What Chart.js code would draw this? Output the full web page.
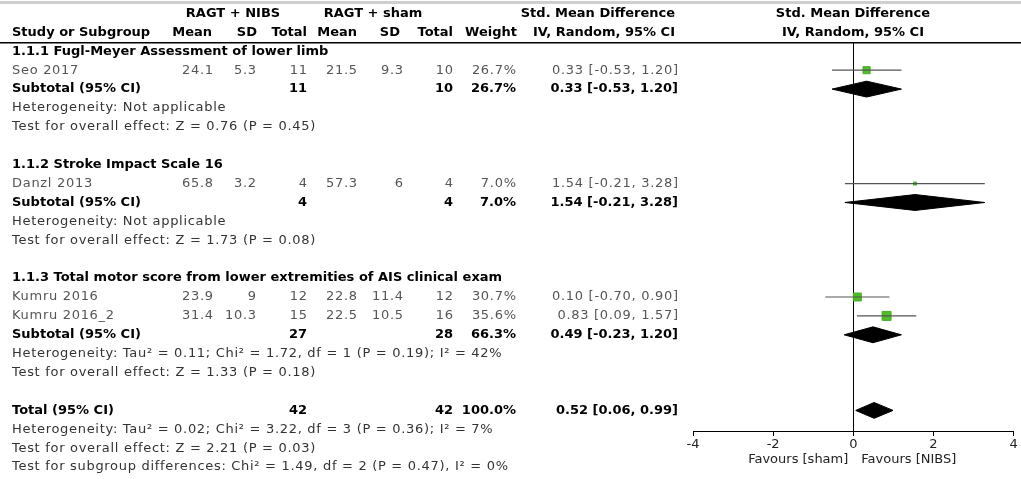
<!DOCTYPE html>
<html>
<head>
<meta charset="utf-8">
<script src="https://cdn.jsdelivr.net/npm/chart.js@4.4.1/dist/chart.umd.min.js"></script>
<style>
  body { margin: 0; background: #fff; }
  #wrap { width: 1021px; height: 479px; }
</style>
</head>
<body>
<div id="wrap"><canvas id="forest" width="1021" height="479"></canvas></div>
<script>
// study level data
var studies = ['Seo 2017', 'Danzl 2013', 'Kumru 2016', 'Kumru 2016_2'];
var studyRow = [3, 9, 15, 16];
var nibsMean = [24.1, 65.8, 23.9, 31.4];
var nibsSD = [5.3, 3.2, 9, 10.3];
var nibsN = [11, 4, 12, 15];
var shamMean = [21.5, 57.3, 22.8, 22.5];
var shamSD = [9.3, 6, 11.4, 10.5];
var shamN = [10, 4, 12, 16];
var weights = [26.7, 7.0, 30.7, 35.6];
var smd = [0.33, 1.54, 0.10, 0.83];
var smdLo = [-0.53, -0.21, -0.70, 0.09];
var smdHi = [1.20, 3.28, 0.90, 1.57];

// subgroups
var groupTitles = ['1.1.1 Fugl-Meyer Assessment of lower limb', '1.1.2 Stroke Impact Scale 16', '1.1.3 Total motor score from lower extremities of AIS clinical exam'];
var groupRow = [2, 8, 14];
var subRow = [4, 10, 17];
var subN1 = [11, 4, 27];
var subN2 = [10, 4, 28];
var subWeight = [26.7, 7.0, 66.3];
var subEst = [0.33, 1.54, 0.49];
var subLo = [-0.53, -0.21, -0.23];
var subHi = [1.20, 3.28, 1.20];
var subHet = ['Heterogeneity: Not applicable', 'Heterogeneity: Not applicable', 'Heterogeneity: Tau\u00b2 = 0.11; Chi\u00b2 = 1.72, df = 1 (P = 0.19); I\u00b2 = 42%'];
var subTest = ['Test for overall effect: Z = 0.76 (P = 0.45)', 'Test for overall effect: Z = 1.73 (P = 0.08)', 'Test for overall effect: Z = 1.33 (P = 0.18)'];

// overall
var totalRow = 21;
var totalN1 = 42, totalN2 = 42, totalWeight = 100.0;
var totalEst = 0.52, totalLo = 0.06, totalHi = 0.99;
var totalNotes = ['Heterogeneity: Tau\u00b2 = 0.02; Chi\u00b2 = 3.22, df = 3 (P = 0.36); I\u00b2 = 7%', 'Test for overall effect: Z = 2.21 (P = 0.03)', 'Test for subgroup differences: Chi\u00b2 = 1.49, df = 2 (P = 0.47), I\u00b2 = 0%'];

var xTicks = [-4, -2, 0, 2, 4];

var FONT = '"DejaVu Sans", sans-serif';
var DIAMOND_H = 0.42;

function ci(e, l, h) {
  return e.toFixed(2) + ' [' + l.toFixed(2) + ', ' + h.toFixed(2) + ']';
}

var datasets = [];

// CI whiskers
studies.forEach(function (s, i) {
  datasets.push({
    type: 'line',
    data: [{ x: smdLo[i], y: studyRow[i] }, { x: smdHi[i], y: studyRow[i] }],
    borderColor: '#555',
    borderWidth: 1.2,
    pointRadius: 0,
    fill: false
  });
});

// study boxes
datasets.push({
  type: 'line',
  showLine: false,
  data: studies.map(function (s, i) { return { x: smd[i], y: studyRow[i] }; }),
  pointStyle: 'rect',
  pointRadius: weights.map(function (w) { return (1.5 + w * 0.21) / 1.414; }),
  backgroundColor: '#4fbd2a',
  borderColor: '#47b024',
  borderWidth: 1
});

// diamonds: pair of lines filled between them
function diamond(est, lo, hi, row) {
  datasets.push({
    type: 'line',
    data: [{ x: lo, y: row }, { x: est, y: row - DIAMOND_H }, { x: hi, y: row }],
    borderColor: '#000', borderWidth: 1, pointRadius: 0, fill: false, tension: 0
  });
  datasets.push({
    type: 'line',
    data: [{ x: lo, y: row }, { x: est, y: row + DIAMOND_H }, { x: hi, y: row }],
    borderColor: '#000', borderWidth: 1, pointRadius: 0, fill: '-1', backgroundColor: '#000', tension: 0
  });
}
subEst.forEach(function (e, i) { diamond(e, subLo[i], subHi[i], subRow[i]); });
diamond(totalEst, totalLo, totalHi, totalRow);

function text(ctx, t, x, y, align, bold, color) {
  ctx.font = bold ? 'bold 13px ' + FONT : '13px ' + FONT;
  ctx.letterSpacing = bold ? '0px' : '0.7px';
  ctx.textAlign = align;
  ctx.textBaseline = 'middle';
  ctx.fillStyle = color || '#222';
  // letter spacing adds trailing space on right-aligned text
  var dx = (!bold && align === 'right') ? 0.7 : 0;
  ctx.fillText(t, x + dx, y);
}

var tablePlugin = {
  id: 'table',
  afterDraw: function (chart) {
    var ctx = chart.ctx;
    var ys = chart.scales.y;
    var xs = chart.scales.x;
    function Y(r) { return ys.getPixelForValue(r); }
    ctx.save();
    // top grey line and header rule
    ctx.fillStyle = '#cfcfcf';
    ctx.fillRect(0, 1, chart.width, 3);
    ctx.fillStyle = '#000';
    ctx.fillRect(0, 42, chart.width, 1.5);

    var L = 12;
    var hd = { m1: 212, s1: 257, n1: 307, m2: 357, s2: 400, n2: 453, w: 517 };
    var cols = { m1: 213, s1: 256, n1: 307, m2: 357, s2: 403, n2: 453, w: 516, ci: 678 };
    // header
    text(ctx, 'RAGT + NIBS', 233, Y(0), 'center', true, '#000');
    text(ctx, 'RAGT + sham', 373, Y(0), 'center', true, '#000');
    text(ctx, 'Std. Mean Difference', 675, Y(0), 'right', true, '#000');
    text(ctx, 'Std. Mean Difference', 853, Y(0), 'center', true, '#000');
    text(ctx, 'Study or Subgroup', L, Y(1), 'left', true, '#000');
    text(ctx, 'Mean', hd.m1, Y(1), 'right', true, '#000');
    text(ctx, 'SD', hd.s1, Y(1), 'right', true, '#000');
    text(ctx, 'Total', hd.n1, Y(1), 'right', true, '#000');
    text(ctx, 'Mean', hd.m2, Y(1), 'right', true, '#000');
    text(ctx, 'SD', hd.s2, Y(1), 'right', true, '#000');
    text(ctx, 'Total', hd.n2, Y(1), 'right', true, '#000');
    text(ctx, 'Weight', hd.w, Y(1), 'right', true, '#000');
    text(ctx, 'IV, Random, 95% CI', 675, Y(1), 'right', true, '#000');
    text(ctx, 'IV, Random, 95% CI', 853, Y(1), 'center', true, '#000');

    groupTitles.forEach(function (g, i) {
      text(ctx, g, L, Y(groupRow[i]), 'left', true, '#000');
      var r = subRow[i];
      text(ctx, 'Subtotal (95% CI)', L, Y(r), 'left', true, '#000');
      text(ctx, String(subN1[i]), cols.n1, Y(r), 'right', true, '#000');
      text(ctx, String(subN2[i]), cols.n2, Y(r), 'right', true, '#000');
      text(ctx, subWeight[i].toFixed(1) + '%', cols.w, Y(r), 'right', true, '#000');
      text(ctx, ci(subEst[i], subLo[i], subHi[i]), cols.ci, Y(r), 'right', true, '#000');
      text(ctx, subHet[i], L, Y(r + 1), 'left', false, '#333');
      text(ctx, subTest[i], L, Y(r + 2), 'left', false, '#333');
    });

    studies.forEach(function (s, i) {
      var y = Y(studyRow[i]);
      var c = '#555';
      text(ctx, s, L, y, 'left', false, c);
      text(ctx, String(nibsMean[i]), cols.m1, y, 'right', false, c);
      text(ctx, String(nibsSD[i]), cols.s1, y, 'right', false, c);
      text(ctx, String(nibsN[i]), cols.n1, y, 'right', false, c);
      text(ctx, String(shamMean[i]), cols.m2, y, 'right', false, c);
      text(ctx, String(shamSD[i]), cols.s2, y, 'right', false, c);
      text(ctx, String(shamN[i]), cols.n2, y, 'right', false, c);
      text(ctx, weights[i].toFixed(1) + '%', cols.w, y, 'right', false, c);
      text(ctx, ci(smd[i], smdLo[i], smdHi[i]), cols.ci, y, 'right', false, c);
    });

    var y = Y(totalRow);
    text(ctx, 'Total (95% CI)', L, y, 'left', true, '#000');
    text(ctx, String(totalN1), cols.n1, y, 'right', true, '#000');
    text(ctx, String(totalN2), cols.n2, y, 'right', true, '#000');
    text(ctx, totalWeight.toFixed(1) + '%', cols.w, y, 'right', true, '#000');
    text(ctx, ci(totalEst, totalLo, totalHi), cols.ci, y, 'right', true, '#000');
    totalNotes.forEach(function (t, k) {
      text(ctx, t, L, Y(totalRow + 1 + k), 'left', false, '#333');
    });

    // favours labels
    var zx = xs.getPixelForValue(0);
    ctx.font = '13px ' + FONT;
    ctx.letterSpacing = '0px';
    ctx.textBaseline = 'middle';
    ctx.fillStyle = '#222';
    ctx.textAlign = 'right';
    ctx.fillText('Favours [sham]', zx - 5, 460);
    ctx.textAlign = 'left';
    ctx.fillText('Favours [NIBS]', zx + 8, 460);
    ctx.restore();
  }
};

new Chart(document.getElementById('forest'), {
  type: 'line',
  data: { datasets: datasets },
  options: {
    responsive: false,
    animation: false,
    layout: { padding: { left: 693, right: 5, top: 43, bottom: 0 } },
    plugins: { legend: { display: false }, tooltip: { enabled: false } },
    scales: {
      x: {
        type: 'linear',
        min: -4,
        max: 4,
        afterFit: function (s) { s.height = 48; },
        afterBuildTicks: function (s) { s.ticks = xTicks.map(function (v) { return { value: v }; }); },
        grid: {
          drawOnChartArea: true,
          color: function (c) { return c.tick && c.tick.value === 0 ? '#000' : 'rgba(0,0,0,0)'; },
          tickColor: '#000',
          tickLength: 5,
          lineWidth: 1
        },
        border: { display: true, color: '#000', width: 1 },
        ticks: { color: '#222', padding: 1, font: { family: FONT, size: 13 } }
      },
      y: {
        type: 'linear',
        display: false,
        reverse: true,
        min: 1.561,
        max: 22.09
      }
    }
  },
  plugins: [tablePlugin]
});
</script>
</body>
</html>
